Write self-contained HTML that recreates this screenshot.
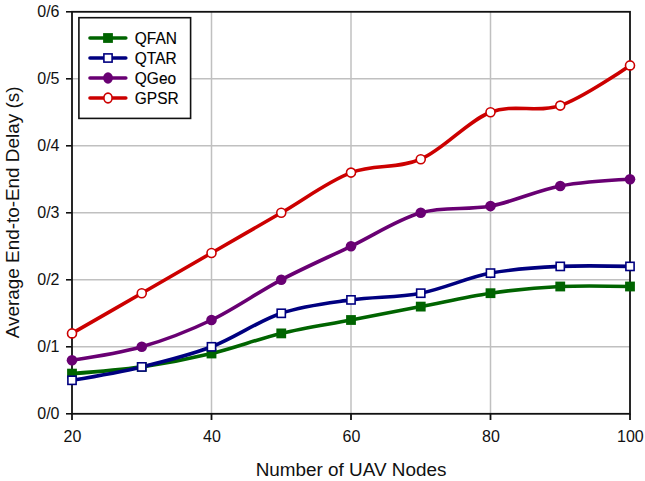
<!DOCTYPE html>
<html><head><meta charset="utf-8"><style>
html,body{margin:0;padding:0;background:#fff;}
body{width:645px;height:481px;overflow:hidden;}
svg{display:block;}
text{font-family:"Liberation Sans",sans-serif;fill:#111;}
.tk{font-size:16px;}
.lg{font-size:15.5px;fill:#000;stroke:#000;stroke-width:0.12px;}
.ti{font-size:18.9px;}
</style></head><body>
<svg width="645" height="481" viewBox="0 0 645 481">
<line x1="72.00" y1="346.80" x2="630.00" y2="346.80" stroke="#c0c0c0" stroke-width="1.5"/>
<line x1="72.00" y1="279.80" x2="630.00" y2="279.80" stroke="#c0c0c0" stroke-width="1.5"/>
<line x1="72.00" y1="212.80" x2="630.00" y2="212.80" stroke="#c0c0c0" stroke-width="1.5"/>
<line x1="72.00" y1="145.80" x2="630.00" y2="145.80" stroke="#c0c0c0" stroke-width="1.5"/>
<line x1="72.00" y1="78.80" x2="630.00" y2="78.80" stroke="#c0c0c0" stroke-width="1.5"/>
<line x1="211.50" y1="11.80" x2="211.50" y2="413.80" stroke="#c0c0c0" stroke-width="1.5"/>
<line x1="351.00" y1="11.80" x2="351.00" y2="413.80" stroke="#c0c0c0" stroke-width="1.5"/>
<line x1="490.50" y1="11.80" x2="490.50" y2="413.80" stroke="#c0c0c0" stroke-width="1.5"/>
<rect x="72.00" y="11.80" width="558.00" height="402.00" fill="none" stroke="#111" stroke-width="1.8"/>
<line x1="66" y1="413.80" x2="72.00" y2="413.80" stroke="#111" stroke-width="1.6"/>
<line x1="66" y1="346.80" x2="72.00" y2="346.80" stroke="#111" stroke-width="1.6"/>
<line x1="66" y1="279.80" x2="72.00" y2="279.80" stroke="#111" stroke-width="1.6"/>
<line x1="66" y1="212.80" x2="72.00" y2="212.80" stroke="#111" stroke-width="1.6"/>
<line x1="66" y1="145.80" x2="72.00" y2="145.80" stroke="#111" stroke-width="1.6"/>
<line x1="66" y1="78.80" x2="72.00" y2="78.80" stroke="#111" stroke-width="1.6"/>
<line x1="66" y1="11.80" x2="72.00" y2="11.80" stroke="#111" stroke-width="1.6"/>
<line x1="72.00" y1="413.80" x2="72.00" y2="420" stroke="#111" stroke-width="1.8"/>
<line x1="211.50" y1="413.80" x2="211.50" y2="420" stroke="#111" stroke-width="1.8"/>
<line x1="351.00" y1="413.80" x2="351.00" y2="420" stroke="#111" stroke-width="1.8"/>
<line x1="490.50" y1="413.80" x2="490.50" y2="420" stroke="#111" stroke-width="1.8"/>
<line x1="630.00" y1="413.80" x2="630.00" y2="420" stroke="#111" stroke-width="1.8"/>
<path d="M72.00,373.60 C72.00,373.60 118.50,370.25 141.75,366.90 C165.00,363.55 188.25,359.08 211.50,353.50 C234.75,347.92 258.00,338.98 281.25,333.40 C304.50,327.82 327.75,324.47 351.00,320.00 C374.25,315.53 397.50,311.07 420.75,306.60 C444.00,302.13 467.25,296.55 490.50,293.20 C513.75,289.85 537.00,287.62 560.25,286.50 C583.50,285.38 630.00,286.50 630.00,286.50" fill="none" stroke="#006400" stroke-width="3.6" stroke-linecap="round" stroke-linejoin="round"/>
<path d="M72.00,380.30 C72.00,380.30 118.50,372.48 141.75,366.90 C165.00,361.32 188.25,355.73 211.50,346.80 C234.75,337.87 258.00,321.12 281.25,313.30 C304.50,305.48 327.75,303.25 351.00,299.90 C374.25,296.55 397.50,297.67 420.75,293.20 C444.00,288.73 467.25,277.57 490.50,273.10 C513.75,268.63 537.00,267.52 560.25,266.40 C583.50,265.28 630.00,266.40 630.00,266.40" fill="none" stroke="#000080" stroke-width="3.6" stroke-linecap="round" stroke-linejoin="round"/>
<path d="M72.00,360.20 C72.00,360.20 118.50,353.50 141.75,346.80 C165.00,340.10 188.25,331.17 211.50,320.00 C234.75,308.83 258.00,292.08 281.25,279.80 C304.50,267.52 327.75,257.47 351.00,246.30 C374.25,235.13 397.50,219.50 420.75,212.80 C444.00,206.10 467.25,210.57 490.50,206.10 C513.75,201.63 537.00,190.47 560.25,186.00 C583.50,181.53 630.00,179.30 630.00,179.30" fill="none" stroke="#690073" stroke-width="3.6" stroke-linecap="round" stroke-linejoin="round"/>
<path d="M72.00,333.40 C72.00,333.40 118.50,306.60 141.75,293.20 C165.00,279.80 188.25,266.40 211.50,253.00 C234.75,239.60 258.00,226.20 281.25,212.80 C304.50,199.40 327.75,181.53 351.00,172.60 C374.25,163.67 397.50,169.25 420.75,159.20 C444.00,149.15 467.25,121.23 490.50,112.30 C513.75,103.37 537.00,113.42 560.25,105.60 C583.50,97.78 630.00,65.40 630.00,65.40" fill="none" stroke="#cc0000" stroke-width="3.6" stroke-linecap="round" stroke-linejoin="round"/>
<rect x="67.10" y="368.70" width="9.80" height="9.80" fill="#006400"/>
<rect x="136.85" y="362.00" width="9.80" height="9.80" fill="#006400"/>
<rect x="206.60" y="348.60" width="9.80" height="9.80" fill="#006400"/>
<rect x="276.35" y="328.50" width="9.80" height="9.80" fill="#006400"/>
<rect x="346.10" y="315.10" width="9.80" height="9.80" fill="#006400"/>
<rect x="415.85" y="301.70" width="9.80" height="9.80" fill="#006400"/>
<rect x="485.60" y="288.30" width="9.80" height="9.80" fill="#006400"/>
<rect x="555.35" y="281.60" width="9.80" height="9.80" fill="#006400"/>
<rect x="625.10" y="281.60" width="9.80" height="9.80" fill="#006400"/>
<rect x="67.90" y="376.20" width="8.20" height="8.20" fill="#fff" stroke="#000080" stroke-width="1.6"/>
<rect x="137.65" y="362.80" width="8.20" height="8.20" fill="#fff" stroke="#000080" stroke-width="1.6"/>
<rect x="207.40" y="342.70" width="8.20" height="8.20" fill="#fff" stroke="#000080" stroke-width="1.6"/>
<rect x="277.15" y="309.20" width="8.20" height="8.20" fill="#fff" stroke="#000080" stroke-width="1.6"/>
<rect x="346.90" y="295.80" width="8.20" height="8.20" fill="#fff" stroke="#000080" stroke-width="1.6"/>
<rect x="416.65" y="289.10" width="8.20" height="8.20" fill="#fff" stroke="#000080" stroke-width="1.6"/>
<rect x="486.40" y="269.00" width="8.20" height="8.20" fill="#fff" stroke="#000080" stroke-width="1.6"/>
<rect x="556.15" y="262.30" width="8.20" height="8.20" fill="#fff" stroke="#000080" stroke-width="1.6"/>
<rect x="625.90" y="262.30" width="8.20" height="8.20" fill="#fff" stroke="#000080" stroke-width="1.6"/>
<circle cx="72.00" cy="360.20" r="5.30" fill="#690073"/>
<circle cx="141.75" cy="346.80" r="5.30" fill="#690073"/>
<circle cx="211.50" cy="320.00" r="5.30" fill="#690073"/>
<circle cx="281.25" cy="279.80" r="5.30" fill="#690073"/>
<circle cx="351.00" cy="246.30" r="5.30" fill="#690073"/>
<circle cx="420.75" cy="212.80" r="5.30" fill="#690073"/>
<circle cx="490.50" cy="206.10" r="5.30" fill="#690073"/>
<circle cx="560.25" cy="186.00" r="5.30" fill="#690073"/>
<circle cx="630.00" cy="179.30" r="5.30" fill="#690073"/>
<circle cx="72.00" cy="333.40" r="4.50" fill="#fff" stroke="#cc0000" stroke-width="1.6"/>
<circle cx="141.75" cy="293.20" r="4.50" fill="#fff" stroke="#cc0000" stroke-width="1.6"/>
<circle cx="211.50" cy="253.00" r="4.50" fill="#fff" stroke="#cc0000" stroke-width="1.6"/>
<circle cx="281.25" cy="212.80" r="4.50" fill="#fff" stroke="#cc0000" stroke-width="1.6"/>
<circle cx="351.00" cy="172.60" r="4.50" fill="#fff" stroke="#cc0000" stroke-width="1.6"/>
<circle cx="420.75" cy="159.20" r="4.50" fill="#fff" stroke="#cc0000" stroke-width="1.6"/>
<circle cx="490.50" cy="112.30" r="4.50" fill="#fff" stroke="#cc0000" stroke-width="1.6"/>
<circle cx="560.25" cy="105.60" r="4.50" fill="#fff" stroke="#cc0000" stroke-width="1.6"/>
<circle cx="630.00" cy="65.40" r="4.50" fill="#fff" stroke="#cc0000" stroke-width="1.6"/>
<rect x="78.90" y="17.70" width="111.70" height="100.70" fill="#fff" stroke="#111" stroke-width="1.6"/>
<line x1="90" y1="38.00" x2="125.8" y2="38.00" stroke="#006400" stroke-width="3.6" stroke-linecap="round"/>
<rect x="103.10" y="33.10" width="9.80" height="9.80" fill="#006400"/>
<text transform="translate(134.8,43.50) scale(1,1.1)" class="lg">QFAN</text>
<line x1="90" y1="58.00" x2="125.8" y2="58.00" stroke="#000080" stroke-width="3.6" stroke-linecap="round"/>
<rect x="103.90" y="53.90" width="8.20" height="8.20" fill="#fff" stroke="#000080" stroke-width="1.6"/>
<text transform="translate(134.8,63.50) scale(1,1.1)" class="lg">QTAR</text>
<line x1="90" y1="78.00" x2="125.8" y2="78.00" stroke="#690073" stroke-width="3.6" stroke-linecap="round"/>
<ellipse cx="108.00" cy="78.00" rx="4.90" ry="5.70" fill="#690073"/>
<text transform="translate(134.8,83.50) scale(1,1.1)" class="lg">QGeo</text>
<line x1="90" y1="98.00" x2="125.8" y2="98.00" stroke="#cc0000" stroke-width="3.6" stroke-linecap="round"/>
<ellipse cx="108.00" cy="98.00" rx="4.10" ry="4.90" fill="#fff" stroke="#cc0000" stroke-width="1.6"/>
<text transform="translate(134.8,103.50) scale(1,1.1)" class="lg">GPSR</text>
<text x="59.5" y="419.20" text-anchor="end" class="tk">0/0</text>
<text x="59.5" y="352.20" text-anchor="end" class="tk">0/1</text>
<text x="59.5" y="285.20" text-anchor="end" class="tk">0/2</text>
<text x="59.5" y="218.20" text-anchor="end" class="tk">0/3</text>
<text x="59.5" y="151.20" text-anchor="end" class="tk">0/4</text>
<text x="59.5" y="84.20" text-anchor="end" class="tk">0/5</text>
<text x="59.5" y="16.80" text-anchor="end" class="tk">0/6</text>
<text x="72.40" y="441.8" text-anchor="middle" class="tk">20</text>
<text x="211.90" y="441.8" text-anchor="middle" class="tk">40</text>
<text x="351.40" y="441.8" text-anchor="middle" class="tk">60</text>
<text x="490.90" y="441.8" text-anchor="middle" class="tk">80</text>
<text x="630.40" y="441.8" text-anchor="middle" class="tk">100</text>
<text x="351" y="476" text-anchor="middle" class="ti">Number of UAV Nodes</text>
<text transform="translate(18.8,212.4) rotate(-90)" x="0" y="0" text-anchor="middle" class="ti">Average End-to-End Delay (s)</text>
</svg>
</body></html>
